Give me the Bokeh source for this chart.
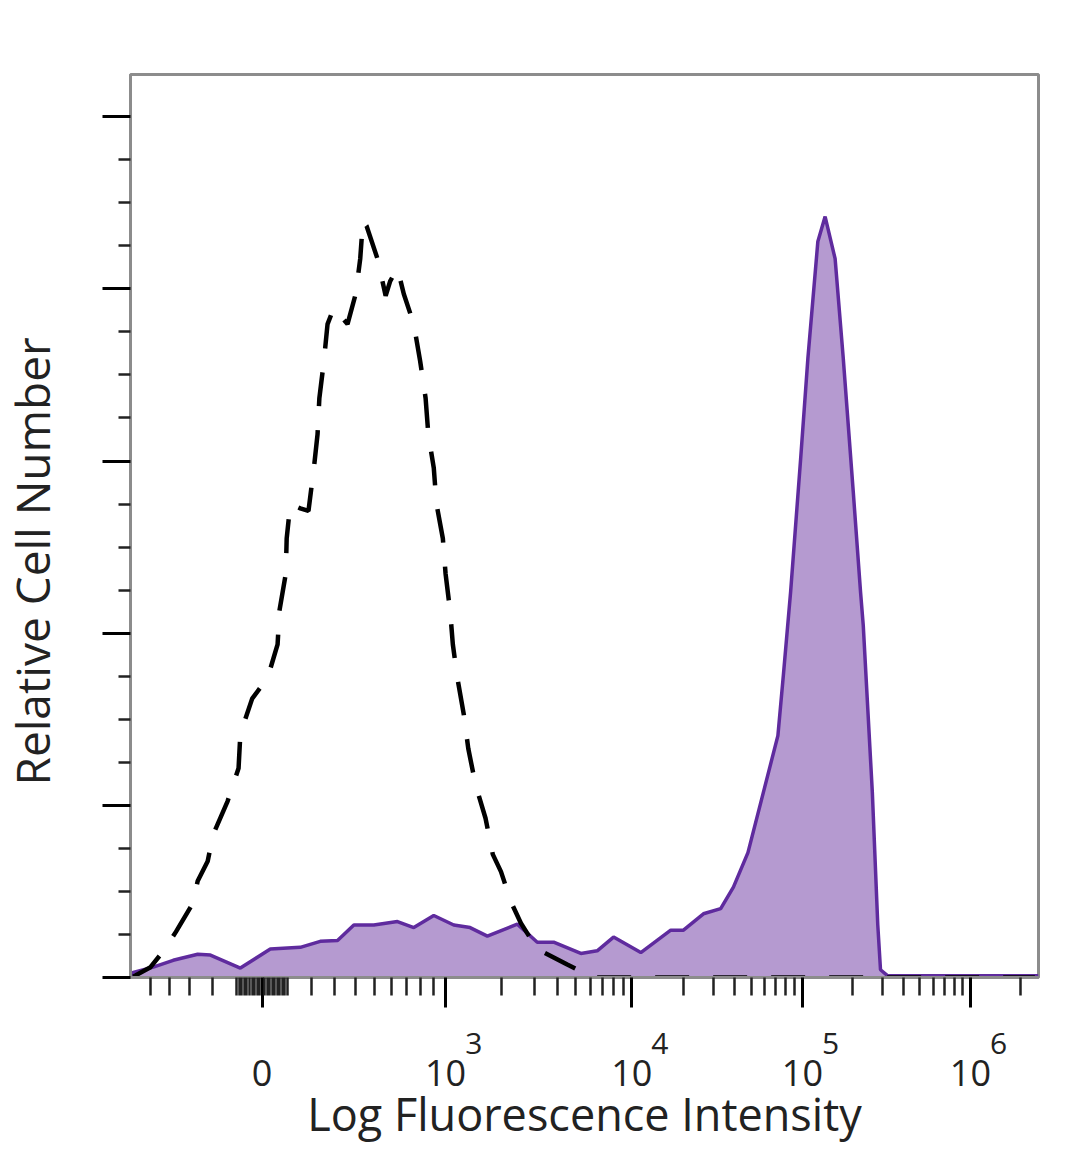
import numpy as np
from bokeh.plotting import figure
from bokeh.models import (Range1d, FixedTicker, LinearAxis, CustomLabelingPolicy, Title)
from bokeh.embed import file_html
from bokeh.resources import INLINE

# ---------------- data (x in display channels 0..1000, y = relative cell number) -------------
stained_x = [0, 3, 25, 47, 74, 88, 121, 154, 187, 209, 228, 246, 268, 294, 312, 334, 356, 374,
             393, 426, 448, 466, 496, 514, 532, 562, 595, 609, 631, 650, 664, 680, 697, 713, 719,
             727, 738, 746, 757, 765, 776, 785, 796, 804, 807, 817, 823, 826, 834, 1000]
stained_y = [0.2, 0.6, 1.2, 2.0, 2.7, 2.6, 1.1, 3.3, 3.5, 4.2, 4.3, 6.1, 6.1, 6.5, 5.8, 7.2, 6.1, 5.8,
             4.8, 6.2, 4.1, 4.1, 2.8, 3.1, 4.7, 2.9, 5.5, 5.5, 7.4, 8.0, 10.5, 14.5, 21.5, 28.1, 35.1,
             44.8, 60.2, 71.9, 85.5, 88.4, 83.5, 71.9, 56.4, 44.8, 40.9, 21.5, 6.1, 0.9, 0.2, 0.2]

control_x = [3, 22, 38, 50, 68, 74, 85, 91, 107, 119, 121, 134, 151, 162, 164, 171, 172, 176, 187,
             196, 202, 206, 208, 213, 217, 224, 231, 239, 248, 253, 256, 260, 272, 281, 286, 294,
             301, 312, 319, 325, 328, 334, 337, 344, 347, 352, 355, 360, 367, 372, 380, 391, 399,
             408, 419, 430, 448, 481, 510, 996]
control_y = [0.1, 1.2, 3.3, 5.3, 8.5, 11.2, 13.5, 16.6, 20.5, 24.3, 28.3, 32.4, 34.8, 38.7, 42.6,
             46.9, 51.0, 55.0, 54.5, 54.2, 59.2, 63.1, 67.3, 71.6, 75.9, 77.8, 76.9, 75.9, 79.4,
             83.5, 87.9, 87.3, 83.5, 79.2, 80.9, 82.4, 79.4, 75.9, 71.6, 67.3, 63.1, 59.2, 55.0,
             51.0, 46.9, 42.6, 38.7, 34.8, 30.6, 26.6, 22.4, 18.5, 14.3, 12.3, 8.8, 6.3, 3.3, 1.5,
             0.0, 0.0]

# axis ticks
tick_values = [0, 1e3, 1e4, 1e5, 1e6]
tick_channels = [145, 347, 552, 740, 925]
tick_base = ["0", "10", "10", "10", "10"]
tick_exp = ["", "3", "4", "5", "6"]
y_major = [0, 20, 40, 60, 80, 100]

TEXT = "#222222"
FRAME = "#8c8c8c"


def to_channel(v):
    """biexponential-like display transform built from the major tick positions"""
    v = np.asarray(v, dtype=float)
    lin = tick_channels[0] + (tick_channels[1] - tick_channels[0]) * np.arcsinh(v / 500.0) / np.arcsinh(2.0)
    lg = np.log10(np.maximum(v, 1.0))
    dec = np.interp(lg, [3, 4, 5, 6], tick_channels[1:])
    dec = np.where(lg > 6, tick_channels[-1] + (lg - 6) * (tick_channels[-1] - tick_channels[-2]), dec)
    return np.where(v < 1000, lin, dec)


minor_vals = ([-100 * k for k in range(1, 6)] + [s * 10 * k for s in (-1, 1) for k in range(1, 10)]
              + [100 * k for k in range(1, 10)]
              + [m * 10 ** e for e in (3, 4, 5, 6) for m in range(2, 10)])
minor_ch = [float(c) for c in to_channel(minor_vals) if 0 <= c <= 1000]
y_minor = [v for v in range(0, 101, 5) if v % 20]

hide_all = "for (const i of Array.from(indices)) { indices.unset(i) } return indices"

# ---------------- figure ----------------
SHIFT = 42            # canvas is shifted left by this much so the y title can sit near the page edge
LEFT = 130 + SHIFT
W, H = 1038 + SHIFT + 22, 1160
p = figure(width=W, height=H, output_backend="svg", toolbar_location=None,
           x_range=Range1d(0, 1000), y_range=Range1d(0, 104.9),
           min_border_left=LEFT, min_border_right=22, min_border_top=74,
           min_border_bottom=H - 977, styles={"margin-left": f"-{SHIFT}px"})
p.grid.visible = False
p.background_fill_color = "white"
p.border_fill_color = "white"
p.outline_line_color = FRAME
p.outline_line_width = 3

p.varea(x=stained_x, y1=0, y2=stained_y, fill_color="#b59ad0", fill_alpha=1.0)
p.line(stained_x, stained_y, line_color="#5f2b9e", line_width=3.5)
p.line(control_x, control_y, line_color="black", line_width=4.5, line_dash="34 24")

# x axis 1: axis line and ticks only
xa = p.xaxis[0]
xa.ticker = FixedTicker(ticks=tick_channels, minor_ticks=minor_ch)
xa.axis_line_color = FRAME
xa.axis_line_width = 3
xa.major_tick_line_color = "black"
xa.major_tick_line_width = 3
xa.major_tick_out = 30
xa.major_tick_in = 0
xa.minor_tick_line_color = TEXT
xa.minor_tick_line_width = 2.5
xa.minor_tick_out = 18
xa.minor_tick_in = 0
xa.major_label_policy = CustomLabelingPolicy(code=hide_all)
xa.major_label_text_font_size = "0px"
xa.major_label_standoff = 0

# x axis 2: decade exponents, set to the upper right of each "10"
exp_shift = 31
exp_ch = [c + exp_shift for c, e in zip(tick_channels, tick_exp) if e]
exp_axis = LinearAxis(ticker=FixedTicker(ticks=exp_ch, minor_ticks=[]),
                      major_label_overrides={c: e for c, e in zip(exp_ch, [e for e in tick_exp if e])},
                      axis_line_color=None, major_tick_line_color=None, minor_tick_line_color=None,
                      major_tick_out=0, major_tick_in=0, minor_tick_out=0, minor_tick_in=0,
                      major_label_text_font="Open Sans", major_label_text_font_size="30px",
                      major_label_text_color=TEXT, major_label_standoff=25)
p.add_layout(exp_axis, "below")

# x axis 3: "0" / "10" labels and axis title
base_axis = LinearAxis(ticker=FixedTicker(ticks=tick_channels, minor_ticks=[]),
                       major_label_overrides={c: t for c, t in zip(tick_channels, tick_base)},
                       axis_line_color=None, major_tick_line_color=None, minor_tick_line_color=None,
                       major_tick_out=0, major_tick_in=0, minor_tick_out=0, minor_tick_in=0,
                       major_label_text_font="Open Sans", major_label_text_font_size="36px",
                       major_label_text_color=TEXT, major_label_standoff=3,
                       axis_label="Log Fluorescence Intensity", axis_label_text_font="Open Sans",
                       axis_label_text_font_size="45px", axis_label_text_font_style="normal",
                       axis_label_text_color=TEXT, axis_label_standoff=-6)
p.add_layout(base_axis, "below")

# y axis (ticks only, no tick labels)
ya = p.yaxis[0]
ya.ticker = FixedTicker(ticks=y_major, minor_ticks=y_minor)
ya.axis_line_color = FRAME
ya.axis_line_width = 3
ya.major_tick_line_color = "black"
ya.major_tick_line_width = 3
ya.major_tick_out = 28
ya.major_tick_in = 0
ya.minor_tick_line_color = TEXT
ya.minor_tick_line_width = 2.5
ya.minor_tick_out = 12
ya.minor_tick_in = 0
ya.major_label_policy = CustomLabelingPolicy(code=hide_all)
ya.major_label_text_font_size = "0px"
ya.major_label_standoff = 0

ytitle = Title(text="Relative Cell Number", align="left", offset=192, standoff=80,
               text_font="Open Sans", text_font_size="46px", text_font_style="normal",
               text_color=TEXT)
p.add_layout(ytitle, "left")

open("out.html", "w").write(file_html(p, INLINE))
